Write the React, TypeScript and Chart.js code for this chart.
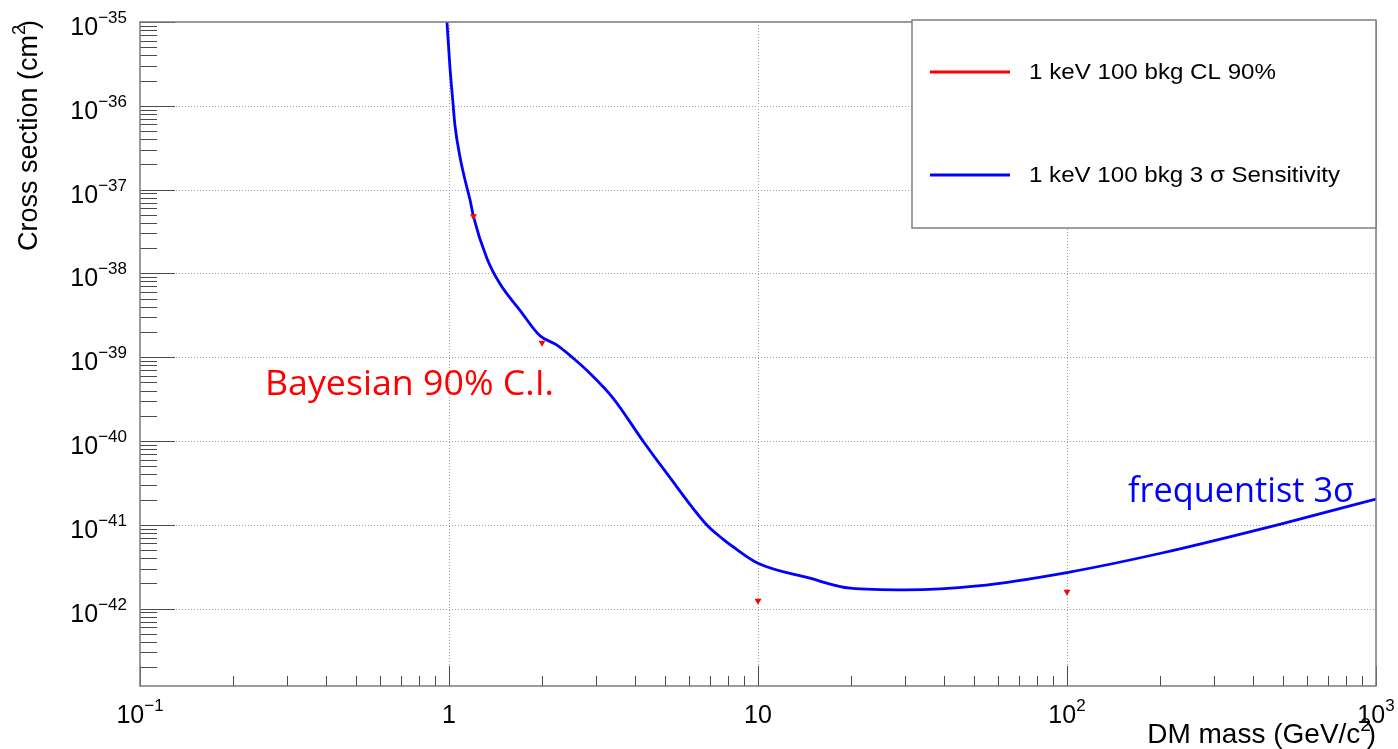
import React, { useEffect, useRef } from "react";
import { Chart, registerables } from "chart.js";

Chart.register(...registerables);

// ---- data ----
const massGeV = [
  0.985, 1.007, 1.032, 1.045, 1.085, 1.127, 1.17, 1.2, 1.325, 1.462, 1.7, 1.97, 2.23,
  2.525, 2.86, 3.4, 4.26, 5.07, 6.82, 7.72, 8.28, 10, 14.6, 19.9, 30, 51.4, 101, 201, 502, 1000,
];
const sensitivity3Sigma = [
  1e-35, 2.9e-36, 1e-36, 5.9e-37, 2.47e-37, 1.3e-37, 7.5e-38, 4.75e-38, 1.53e-38, 7.5e-39,
  3.6e-39, 1.8e-39, 1.4e-39, 9.7e-40, 6.4e-40, 3.23e-40, 9.8e-41, 4.1e-41, 1e-41, 6.7e-42,
  5.5e-42, 3.47e-42, 2.32e-42, 1.75e-42, 1.67e-42, 1.86e-42, 2.71e-42, 4.57e-42, 1.04e-41, 2.03e-41,
];
const clMass = [1.2, 2, 10, 100];
const clLimit90 = [4.8e-38, 1.49e-39, 1.24e-42, 1.59e-42];

const xDecades = [0.1, 1, 10, 100, 1000];
const xTickBase = ["10", "1", "10", "10", "10"];
const xTickExp = ["\u22121", "", "", "2", "3"];
const yDecades = [1e-35, 1e-36, 1e-37, 1e-38, 1e-39, 1e-40, 1e-41, 1e-42];
const yTickBase = ["10", "10", "10", "10", "10", "10", "10", "10"];
const yTickExp = ["\u221235", "\u221236", "\u221237", "\u221238", "\u221239", "\u221240", "\u221241", "\u221242"];
const yMinorDecades = [1e-43, 1e-42, 1e-41, 1e-40, 1e-39, 1e-38, 1e-37, 1e-36];
const xMinorDecades = [0.1, 1, 10, 100];
const legendLabels = ["1 keV 100 bkg CL 90%", "1 keV 100 bkg 3 \u03c3 Sensitivity"];
const legendColors = ["#ff0000", "#0000ff"];
const xTitle = ["DM mass (GeV/c", "2", ")"];
const yTitle = ["Cross section (cm", "2", ")"];
const noteBayes = "Bayesian 90% C.I.";
const noteFreq = "frequentist 3\u03c3";

const X_MIN = 0.1;
const X_MAX = 1000;
const Y_MIN = 1.19e-43;
const Y_MAX = 1e-35;

const SANS = '"Liberation Sans", Arial, Helvetica, sans-serif';
const NOTE = '"Open Sans", "Noto Sans", sans-serif';

function drawPow(
  ctx: CanvasRenderingContext2D,
  base: string,
  exp: string,
  x: number,
  baseY: number,
  expY: number,
  align: "left" | "center" | "right",
  baseSize: number,
  expSize: number
) {
  ctx.font = `${baseSize}px ${SANS}`;
  const wb = ctx.measureText(base).width;
  ctx.font = `${expSize}px ${SANS}`;
  const we = exp ? ctx.measureText(exp).width : 0;
  const total = wb + we;
  let left = x;
  if (align === "center") left = x - total / 2;
  if (align === "right") left = x - total;
  ctx.textAlign = "left";
  ctx.textBaseline = "alphabetic";
  ctx.font = `${baseSize}px ${SANS}`;
  ctx.fillText(base, left, baseY);
  if (exp) {
    ctx.font = `${expSize}px ${SANS}`;
    ctx.fillText(exp, left + wb, expY);
  }
}

function drawRich(
  ctx: CanvasRenderingContext2D,
  parts: string[],
  xEnd: number,
  y: number,
  size: number,
  supSize: number,
  supRaise: number
) {
  ctx.font = `${size}px ${SANS}`;
  const w0 = ctx.measureText(parts[0]).width;
  const w2 = ctx.measureText(parts[2]).width;
  ctx.font = `${supSize}px ${SANS}`;
  const w1 = ctx.measureText(parts[1]).width;
  const left = xEnd - (w0 + w1 * 0.6 + w2);
  ctx.textAlign = "left";
  ctx.textBaseline = "alphabetic";
  ctx.font = `${size}px ${SANS}`;
  ctx.fillText(parts[0], left, y);
  ctx.font = `${supSize}px ${SANS}`;
  ctx.fillText(parts[1], left + w0, y - supRaise);
  ctx.font = `${size}px ${SANS}`;
  ctx.fillText(parts[2], left + w0 + w1 * 0.6, y);
}

function drawFitted(
  ctx: CanvasRenderingContext2D,
  text: string,
  x: number,
  y: number,
  font: string,
  targetWidth: number
) {
  ctx.font = font;
  const w = ctx.measureText(text).width;
  ctx.save();
  ctx.translate(x, y);
  ctx.scale(targetWidth / w, 1);
  ctx.textAlign = "left";
  ctx.textBaseline = "alphabetic";
  ctx.fillText(text, 0, 0);
  ctx.restore();
}

const rootPlugin = {
  id: "rootStyle",
  beforeDatasetsDraw(chart: any) {
    const { ctx, chartArea: a, scales } = chart;
    const xs = scales.x;
    const ys = scales.y;
    ctx.save();
    ctx.strokeStyle = "#a0a0a0";
    ctx.lineWidth = 1;
    ctx.setLineDash([1, 2]);
    xDecades.forEach((v) => {
      const px = Math.round(xs.getPixelForValue(v)) + 0.5;
      if (px <= a.left + 1 || px >= a.right - 1) return;
      ctx.beginPath();
      ctx.moveTo(px, a.top);
      ctx.lineTo(px, a.bottom);
      ctx.stroke();
    });
    yDecades.forEach((v) => {
      const py = Math.round(ys.getPixelForValue(v)) + 0.5;
      if (py <= a.top + 1 || py >= a.bottom - 1) return;
      ctx.beginPath();
      ctx.moveTo(a.left, py);
      ctx.lineTo(a.right, py);
      ctx.stroke();
    });
    ctx.restore();
  },
  afterDatasetsDraw(chart: any) {
    const { ctx, chartArea: a, scales } = chart;
    const xs = scales.x;
    const ys = scales.y;
    ctx.save();
    ctx.setLineDash([]);

    // ticks
    ctx.strokeStyle = "#4a4a4a";
    ctx.lineWidth = 1;
    const tick = (x1: number, y1: number, x2: number, y2: number) => {
      ctx.beginPath();
      ctx.moveTo(x1, y1);
      ctx.lineTo(x2, y2);
      ctx.stroke();
    };
    yDecades.forEach((v) => {
      const py = Math.round(ys.getPixelForValue(v)) + 0.5;
      tick(a.left, py, a.left + 35, py);
    });
    yMinorDecades.forEach((d) => {
      for (let k = 2; k <= 9; k++) {
        const v = d * k;
        if (v < Y_MIN || v > Y_MAX) continue;
        const py = Math.round(ys.getPixelForValue(v)) + 0.5;
        tick(a.left, py, a.left + 17, py);
      }
    });
    xDecades.forEach((v) => {
      const px = Math.round(xs.getPixelForValue(v)) + 0.5;
      tick(px, a.bottom, px, a.bottom - 20);
    });
    xMinorDecades.forEach((d) => {
      for (let k = 2; k <= 9; k++) {
        const px = Math.round(xs.getPixelForValue(d * k)) + 0.5;
        tick(px, a.bottom, px, a.bottom - 10);
      }
    });

    // frame
    ctx.strokeStyle = "#7a7a7a";
    ctx.lineWidth = 1.5;
    ctx.strokeRect(a.left, a.top, a.right - a.left, a.bottom - a.top);

    // tick labels
    ctx.fillStyle = "#000";
    yDecades.forEach((v, i) => {
      const py = ys.getPixelForValue(v);
      drawPow(ctx, yTickBase[i], yTickExp[i], a.left - 13, py + 13, py + 1, "right", 25, 17);
    });
    xDecades.forEach((v, i) => {
      const px = xs.getPixelForValue(v);
      drawPow(ctx, xTickBase[i], xTickExp[i], px, a.bottom + 37, a.bottom + 25, "center", 25, 17);
    });

    // axis titles
    drawRich(ctx, xTitle, a.right, 743, 28, 19, 12);
    ctx.save();
    ctx.translate(37, a.top - 2);
    ctx.rotate(-Math.PI / 2);
    drawRich(ctx, yTitle, 0, 0, 27, 18, 12);
    ctx.restore();

    // legend
    const lx1 = 912, lx2 = 1376, ly1 = 20, ly2 = 228;
    ctx.fillStyle = "#fff";
    ctx.fillRect(lx1, ly1, lx2 - lx1, ly2 - ly1);
    ctx.strokeStyle = "#808080";
    ctx.lineWidth = 1.5;
    ctx.strokeRect(lx1, ly1, lx2 - lx1, ly2 - ly1);
    const rows = [72, 175];
    const legendWidths = [247, 311];
    legendLabels.forEach((lab, i) => {
      ctx.strokeStyle = legendColors[i];
      ctx.lineWidth = 3;
      ctx.beginPath();
      ctx.moveTo(930, rows[i]);
      ctx.lineTo(1010, rows[i]);
      ctx.stroke();
      ctx.fillStyle = "#000";
      drawFitted(ctx, lab, 1029, rows[i] + 7, `22px ${SANS}`, legendWidths[i]);
    });

    // annotations
    ctx.fillStyle = "#ff0000";
    drawFitted(ctx, noteBayes, 265, 395, `34px ${NOTE}`, 289);
    ctx.fillStyle = "#0000ff";
    drawFitted(ctx, noteFreq, 1128, 502, `34px ${NOTE}`, 226);

    ctx.restore();
  },
};

export default function App() {
  const canvasRef = useRef<HTMLCanvasElement | null>(null);

  useEffect(() => {
    const canvas = canvasRef.current;
    if (!canvas) return;
    const chart = new Chart(canvas, {
      type: "scatter",
      data: {
        datasets: [
          {
            label: legendLabels[1],
            data: massGeV.map((m, i) => ({ x: m, y: sensitivity3Sigma[i] })),
            showLine: true,
            borderColor: "#0000ff",
            borderWidth: 2.8,
            pointRadius: 0,
            cubicInterpolationMode: "monotone",
            order: 2,
          },
          {
            label: legendLabels[0],
            data: clMass.map((m, i) => ({ x: m, y: clLimit90[i] })),
            showLine: false,
            pointStyle: "triangle",
            rotation: 180,
            pointRadius: 4,
            backgroundColor: "#ff0000",
            borderColor: "#ff0000",
            borderWidth: 0,
            order: 1,
          },
        ],
      },
      options: {
        animation: false,
        responsive: false,
        events: [],
        layout: { padding: { left: 140, top: 22, right: 22, bottom: 63 } },
        plugins: {
          legend: { display: false },
          title: { display: false },
          tooltip: { enabled: false },
        },
        scales: {
          x: { type: "logarithmic", min: X_MIN, max: X_MAX, display: false },
          y: { type: "logarithmic", min: Y_MIN, max: Y_MAX, display: false },
        },
      },
      plugins: [rootPlugin],
    } as any);
    return () => chart.destroy();
  }, []);

  return (
    <div style={{ position: "fixed", left: 0, top: 0, width: 1398, height: 749, background: "#fff" }}>
      <canvas ref={canvasRef} width={1398} height={749} style={{ display: "block" }} />
    </div>
  );
}
